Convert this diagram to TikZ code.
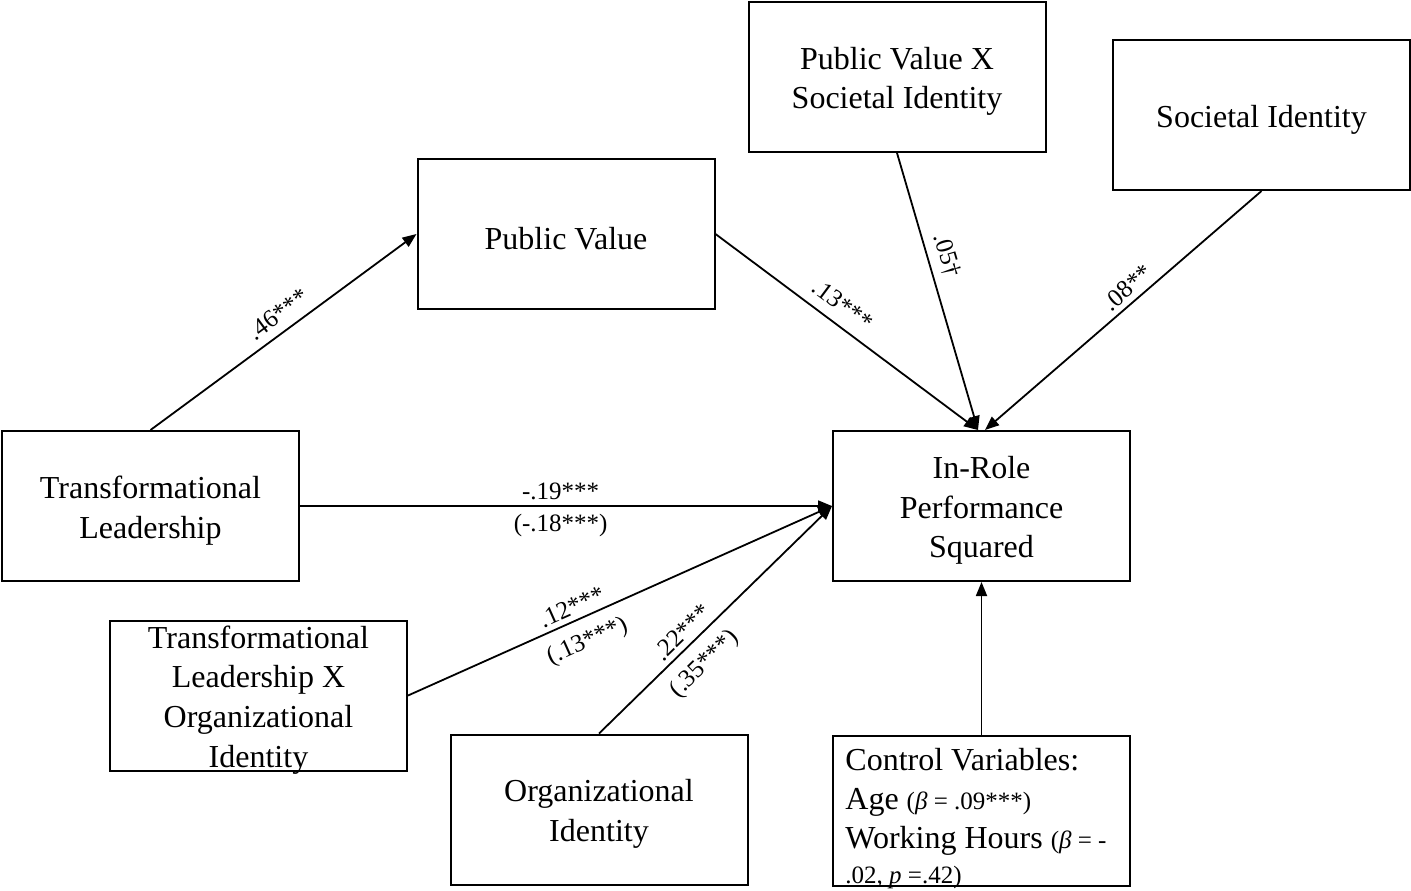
\documentclass[tikz,border=0pt]{standalone}
\usepackage{fontspec}
\setmainfont{Liberation Serif}
\usetikzlibrary{arrows.meta}
\newcommand{\coefsize}{\fontsize{12.5}{14}\selectfont}
\begin{document}
\begin{tikzpicture}[x=0.5pt,y=-0.5pt,
  box/.style={draw, line width=1pt, minimum width=148.5pt, minimum height=75pt, inner sep=0pt},
  boxtext/.style={align=center, inner sep=0pt, yshift=-2.2pt, font=\fontsize{16}{19.8}\selectfont},
  link/.style={line width=0.9pt, -{Triangle[length=7pt,width=5.5pt]}},
  coef/.style={font=\coefsize, inner sep=2.5pt, sloped},
  coefb/.style={font=\coefsize, inner sep=4pt, sloped}]
\useasboundingbox (0,0) rectangle (1411,890);

% variables
\node[box, label={[boxtext]center:Public Value X\\Societal Identity}] (pvsi) at (897,77) {};
\node[box, label={[boxtext]center:Societal Identity}] (si) at (1261.5,115) {};
\node[box, label={[boxtext]center:Public Value}] (pv) at (566,234) {};
\node[box, label={[boxtext]center:Transformational\\Leadership}] (tl) at (150.5,506) {};
\node[box, label={[boxtext]center:In-Role\\Performance\\Squared}] (irp) at (981.5,506) {};
\node[box, label={[boxtext]center:Transformational\\Leadership X\\Organizational\\Identity}] (tloi) at (258.5,695.5) {};
\node[box, label={[boxtext]center:Organizational\\Identity}] (oi) at (599,809.5) {};
\node[box, label={[boxtext, align=left, anchor=north west, yshift=-4.2pt, xshift=6.5pt,
    font=\fontsize{16}{19.5}\selectfont]north west:Control Variables:\\
   Age {\coefsize (\textit{β} = .09***)}\\
   Working Hours {\coefsize (\textit{β} = -}\\[-2pt]
   {\coefsize .02, \textit{p} =.42)}}] (ctrl) at (981.5,811) {};

% paths
\draw[link] (tl.north) -- node[coef, above, pos=0.52, inner sep=4pt] {.46***} (pv.west);
\draw[link] (pv.east) -- node[coef, above, pos=0.44, inner sep=5pt] {.13***} ([xshift=-1.75pt]irp.north);
\draw[link] (pvsi.south) -- node[coef, above, pos=0.39, inner sep=4pt] {.05†} ([xshift=-1.75pt]irp.north);
\draw[link] (si.south) -- node[coef, above, pos=0.45] {.08**} ([xshift=1.75pt]irp.north);
\draw[link] (tl.east) -- node[coef, above, pos=0.49] {-.19***}
                         node[coefb, below, pos=0.49, inner sep=3.5pt] {(-.18***)} (irp.west);
\draw[link] (tloi.east) -- node[coef, above, pos=0.40] {.12***}
                           node[coefb, below, pos=0.40, inner sep=6pt] {(.13***)} (irp.west);
\draw[link] (oi.north) -- node[coef, above, pos=0.40] {.22***}
                          node[coefb, below, pos=0.38, inner sep=6pt] {(.35***)} (irp.west);
\draw[link] (ctrl.north) -- (irp.south);
\end{tikzpicture}
\end{document}
